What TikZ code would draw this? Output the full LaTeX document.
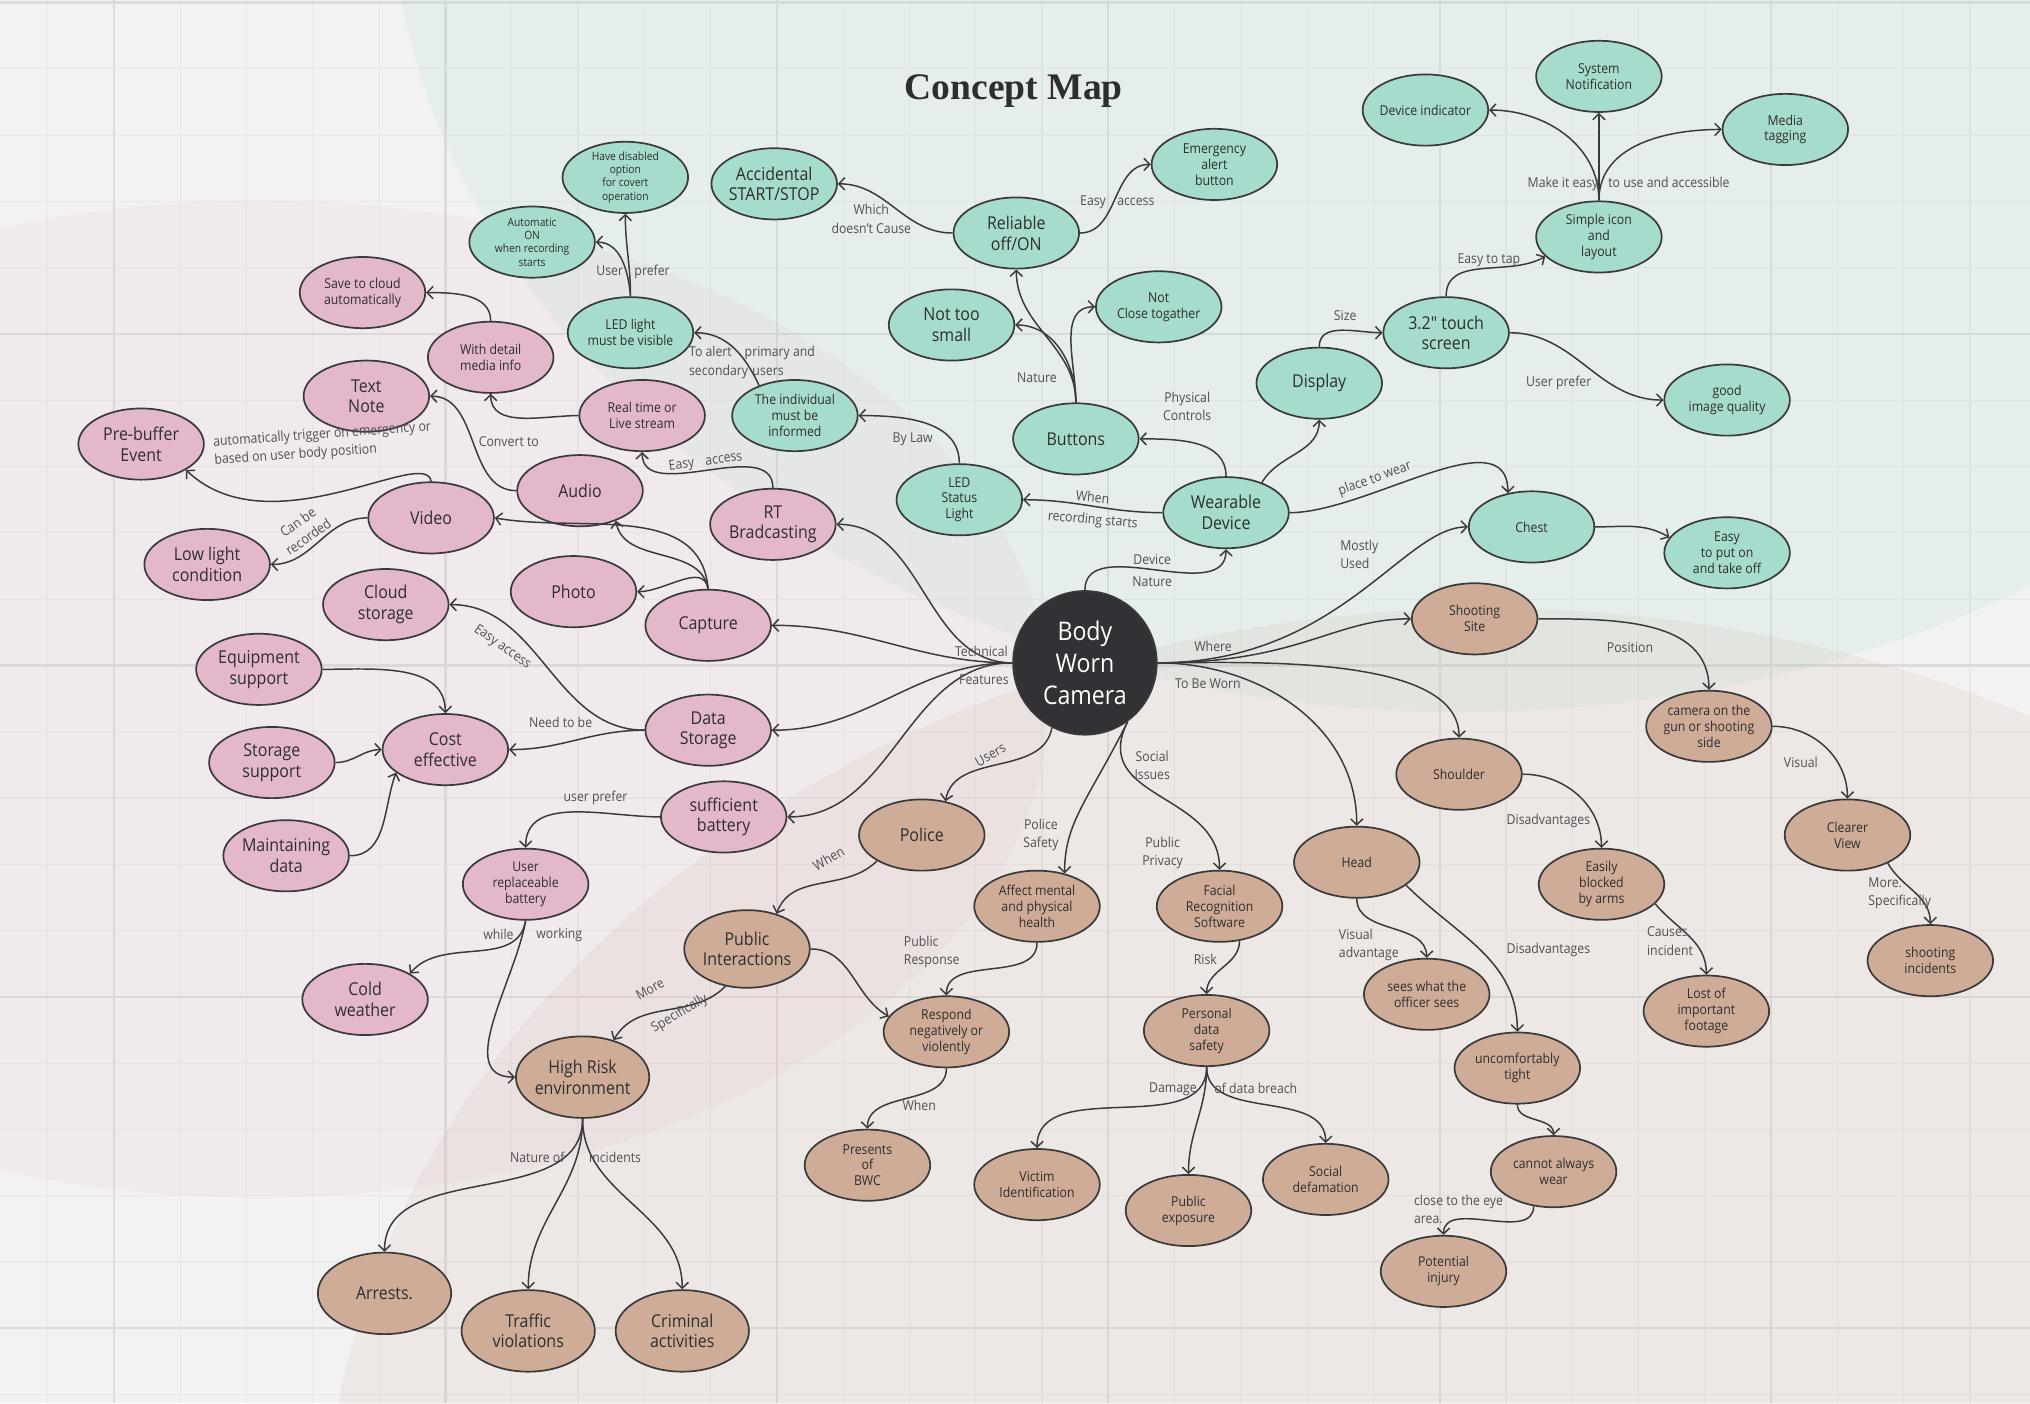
\documentclass[tikz,border=0pt]{standalone}
\usepackage{fontspec}
\setmainfont{Open Sans}[FakeStretch=0.9]
\newfontfamily\plainfont{Open Sans}[FakeStretch=0.9]
\newfontfamily\titlefont{Liberation Serif}
\usepackage{tikz}
\usepackage{color,xcolor}
\usetikzlibrary{shapes.geometric,arrows.meta}

\definecolor{bgcol}{HTML}{F2F2F2}
\definecolor{gridminor}{HTML}{E8E8E8}
\definecolor{gridmajor}{HTML}{DCDCDC}
\definecolor{tealfill}{HTML}{A6DCCD}
\definecolor{pinkfill}{HTML}{E4B8CC}
\definecolor{brownfill}{HTML}{CFAC98}
\definecolor{camfill}{HTML}{323236}
\definecolor{edgecol}{HTML}{3A3A3A}
\definecolor{labelcol}{HTML}{505050}
\definecolor{inkcol}{HTML}{2E2E2E}

\tikzset{
  concept/.style={ellipse, draw=edgecol, line width=0.75pt, inner sep=-2pt,
    minimum width=1.94cm, minimum height=1.1cm, align=center, text=inkcol},
  bigsz/.style={minimum width=2.06cm, minimum height=1.26cm},
  gnode/.style={concept, fill=tealfill},
  pnode/.style={concept, fill=pinkfill},
  bnode/.style={concept, fill=brownfill},
  medtxt/.style={font=\fontsize{7.8}{9.1}\selectfont},
  smtxt/.style={font=\fontsize{6}{7}\selectfont},
  tinytxt/.style={font=\fontsize{5}{5.8}\selectfont},
  link/.style={draw=edgecol, line width=0.65pt, -{Straight Barb[length=2.6pt,width=5.4pt]}},
  lbl/.style={font=\fontsize{6}{8}\selectfont, text=labelcol, align=center, inner sep=0.5pt},
}

\begin{document}
\begin{tikzpicture}[x=0.02cm, y=0.02cm]
  \useasboundingbox (0,0) rectangle (1568,-1084);
  \fill[bgcol] (0,0) rectangle (1568,-1084);
  % grid
  \foreach \i in {0,...,30} \draw[gridminor, line width=0.5pt] ({36.8+51.2*\i},0) -- ++(0,-1084);
  \foreach \j in {0,...,21} \draw[gridminor, line width=0.5pt] (0,{-2-51.2*\j}) -- ++(1568,0);
  \foreach \i in {0,...,5} \draw[gridmajor, line width=1pt] ({88+256*\i},0) -- ++(0,-1084);
  \foreach \j in {0,...,4} \draw[gridmajor, line width=1pt] (0,{-2-256*\j}) -- ++(1568,0);
  % tinted areas
  \begin{scope}
    \clip (0,0) rectangle (1568,-1084);
    \fill[tealfill, opacity=0.17] (1130,100) ellipse [x radius=830, y radius=650];
    \fill[pinkfill, opacity=0.13] (200,-540) ellipse [x radius=610, y radius=385];
    \fill[brownfill, opacity=0.14] (1150,-1200) ellipse [x radius=900, y radius=730];
  \end{scope}

  \node[font=\titlefont\bfseries\fontsize{16.5}{18}\selectfont, text=inkcol] (title) at (783,-70) {Concept Map};

  % centre
  \node[circle, draw=edgecol, line width=0.75pt, fill=camfill, minimum size=2.22cm, inner sep=0pt,
    align=center, text=white, font=\fontsize{11.3}{13.9}\selectfont] (bwc) at (838,-512) {Body\\Worn\\Camera};

  % device nodes
  \node[gnode, medtxt] (acc) at (598,-142) {Accidental\\START/STOP};
  \node[gnode, smtxt] (emerg) at (938,-127) {Emergency\\alert\\button};
  \node[gnode, smtxt] (sysnot) at (1235,-59) {System\\Notification};
  \node[gnode, smtxt] (devind) at (1101,-85) {Device indicator};
  \node[gnode, smtxt] (media) at (1379,-100) {Media\\tagging};
  \node[gnode, tinytxt] (haveDis) at (483,-137) {Have disabled\\option\\for covert\\operation};
  \node[gnode, tinytxt] (autoON) at (411,-187) {Automatic\\ON\\when recording\\starts};
  \node[gnode, medtxt] (reliable) at (785,-180) {Reliable\\off/ON};
  \node[gnode, smtxt] (simple) at (1235,-183) {Simple icon\\and\\layout};
  \node[gnode, smtxt] (notclose) at (895,-237) {Not\\Close togather};
  \node[gnode, medtxt] (nottoo) at (735,-251) {Not too\\small};
  \node[gnode, medtxt] (touch) at (1117,-257) {3.2{\plainfont"} touch\\screen};
  \node[gnode, smtxt] (ledlight) at (487,-257) {LED light\\must be visible};
  \node[gnode, medtxt] (display) at (1019,-296) {Display};
  \node[gnode, smtxt] (good) at (1334,-309) {good\\image quality};
  \node[gnode, smtxt] (indiv) at (614,-321) {The individual\\must be\\informed};
  \node[gnode, medtxt] (buttons) at (831,-339) {Buttons};
  \node[gnode, smtxt] (ledstat) at (741,-386) {LED\\Status\\Light};
  \node[gnode, medtxt] (wear) at (947,-396) {Wearable\\Device};
  \node[gnode, smtxt] (chest) at (1183,-407) {Chest};
  \node[gnode, smtxt] (easyput) at (1334,-427) {Easy\\to put on\\and take off};

  % technical features
  \node[pnode, smtxt] (save) at (280,-226) {Save to cloud\\automatically};
  \node[pnode, smtxt] (detail) at (379,-276) {With detail\\media info};
  \node[pnode, medtxt] (textnote) at (283,-306) {Text\\Note};
  \node[pnode, smtxt] (realtime) at (496,-321) {Real time or\\Live stream};
  \node[pnode, medtxt] (prebuf) at (109,-343) {Pre-buffer\\Event};
  \node[pnode, medtxt] (audio) at (448,-379) {Audio};
  \node[pnode, medtxt] (video) at (333,-400) {Video};
  \node[pnode, medtxt] (rtb) at (597,-405) {RT\\Bradcasting};
  \node[pnode, medtxt] (lowlight) at (160,-436) {Low light\\condition};
  \node[pnode, medtxt] (photo) at (443,-457) {Photo};
  \node[pnode, medtxt] (cloud) at (298,-467) {Cloud\\storage};
  \node[pnode, medtxt] (capture) at (547,-483) {Capture};
  \node[pnode, medtxt] (equip) at (200,-517) {Equipment\\support};
  \node[pnode, medtxt] (datast) at (547,-564) {Data\\Storage};
  \node[pnode, medtxt] (storsup) at (210,-589) {Storage\\support};
  \node[pnode, medtxt] (cost) at (344,-579) {Cost\\effective};
  \node[pnode, medtxt] (suff) at (559,-631) {sufficient\\battery};
  \node[pnode, medtxt] (maint) at (221,-661) {Maintaining\\data};
  \node[pnode, smtxt] (userrep) at (406,-683) {User\\replaceable\\battery};
  \node[pnode, medtxt] (cold) at (282,-772) {Cold\\weather};

  % users, social issues, where to wear
  \node[bnode, smtxt] (shootsite) at (1139,-478) {Shooting\\Site};
  \node[bnode, smtxt] (camgun) at (1320,-561) {camera on the\\gun or shooting\\side};
  \node[bnode, smtxt] (shoulder) at (1127,-598) {Shoulder};
  \node[bnode, medtxt] (police) at (712,-645) {Police};
  \node[bnode, smtxt] (clearer) at (1427,-645) {Clearer\\View};
  \node[bnode, smtxt] (head) at (1048,-666) {Head};
  \node[bnode, smtxt] (easily) at (1237,-683) {Easily\\blocked\\by arms};
  \node[bnode, smtxt] (affect) at (801,-700) {Affect mental\\and physical\\health};
  \node[bnode, smtxt] (facial) at (942,-700) {Facial\\Recognition\\Software};
  \node[bnode, medtxt, minimum height=1.2cm] (public) at (577,-733) {Public\\Interactions};
  \node[bnode, smtxt] (shootinc) at (1491,-742) {shooting\\incidents};
  \node[bnode, smtxt] (sees) at (1102,-768) {sees what the\\officer sees};
  \node[bnode, smtxt] (lost) at (1318,-781) {Lost of\\important\\footage};
  \node[bnode, smtxt] (respond) at (731,-797) {Respond\\negatively or\\violently};
  \node[bnode, smtxt] (personal) at (932,-796) {Personal\\data\\safety};
  \node[bnode, medtxt, bigsz] (highrisk) at (450,-832) {High Risk\\environment};
  \node[bnode, smtxt] (uncomf) at (1172,-825) {uncomfortably\\tight};
  \node[bnode, smtxt] (presents) at (670,-900) {Presents\\of\\BWC};
  \node[bnode, smtxt] (cannot) at (1200,-905) {cannot always\\wear};
  \node[bnode, smtxt] (victim) at (801,-915) {Victim\\Identification};
  \node[bnode, smtxt] (social) at (1024,-911) {Social\\defamation};
  \node[bnode, smtxt] (pubexp) at (918,-935) {Public\\exposure};
  \node[bnode, smtxt] (potential) at (1115,-982) {Potential\\injury};
  \node[bnode, medtxt, bigsz] (arrests) at (297,-999) {Arrests.};
  \node[bnode, medtxt, bigsz] (traffic) at (408,-1028) {Traffic\\violations};
  \node[bnode, medtxt, bigsz] (criminal) at (527,-1028) {Criminal\\activities};

  % links from the camera
  \draw[link] (bwc.north) to[out=90,in=-90] (wear.south);
  \draw[link] (bwc.west) to[out=180,in=0] (rtb.east);
  \draw[link] (bwc.west) to[out=180,in=0] (capture.east);
  \draw[link] (bwc.west) to[out=180,in=0] (datast.east);
  \draw[link] (bwc.west) to[out=180,in=0] (suff.east);
  \draw[link] (bwc.243) to[out=-100,in=80] (police.55);
  \draw[link] (bwc.-54) .. controls +(-30,-60) and +(0,40) .. (affect.50);
  \draw[link] (bwc.-54) .. controls +(-30,-60) and +(0,60) .. (facial.north);
  \draw[link] (bwc.east) .. controls +(140,0) and +(-50,0) .. (chest.west);
  \draw[link] (bwc.east) .. controls +(110,0) and +(-60,0) .. (shootsite.west);
  \draw[link] (bwc.east) to[out=0,in=90,looseness=0.7] (shoulder.north);
  \draw[link] (bwc.east) to[out=0,in=90] (head.north);

  % device
  \draw[link] (wear.west) to[out=180,in=0] (ledstat.east);
  \draw[link] (wear.north) to[out=90,in=0] (buttons.east);
  \draw[link] (wear.40) to[out=60,in=-90] (display.south);
  \draw[link] (wear.east) to[out=0,in=90,looseness=0.9] (chest.125);
  \draw[link] (buttons.north) to[out=90,in=-90] (reliable.south);
  \draw[link] (buttons.north) to[out=90,in=0] (nottoo.east);
  \draw[link] (buttons.north) to[out=90,in=180] (notclose.west);
  \draw[link] (reliable.west) to[out=180,in=0] (acc.east);
  \draw[link] (reliable.east) to[out=0,in=180] (emerg.west);
  \draw[link] (display.north) to[out=90,in=180] (touch.west);
  \draw[link] (touch.north) to[out=90,in=210] (simple.200);
  \draw[link] (touch.east) to[out=0,in=180] (good.west);
  \draw[link] (simple.north) to[out=90,in=0] (devind.east);
  \draw[link] (simple.north) -- (sysnot.south);
  \draw[link] (simple.north) to[out=90,in=180] (media.west);
  \draw[link] (chest.east) to[out=0,in=150] (easyput.165);
  \draw[link] (ledstat.north) to[out=90,in=0] (indiv.east);
  \draw[link] (indiv.140) to[out=115,in=0] (ledlight.east);
  \draw[link] (ledlight.north) to[out=90,in=-90] (haveDis.south);
  \draw[link] (ledlight.north) to[out=95,in=0] (autoON.east);

  % technical features
  \draw[link] (rtb.north) to[out=90,in=-90] (realtime.south);
  \draw[link] (realtime.west) to[out=180,in=-90] (detail.south);
  \draw[link] (detail.north) to[out=90,in=0] (save.east);
  \draw[link] (audio.west) to[out=180,in=0] (textnote.east);
  \draw[link] (video.north) .. controls +(-4,28) and +(65,-62) .. (prebuf.-30);
  \draw[link] (video.west) to[out=180,in=0] (lowlight.east);
  \draw[link] (capture.north) to[out=95,in=-10] (video.east);
  \draw[link] (capture.north) to[out=100,in=-80] (audio.-40);
  \draw[link] (capture.north) to[out=100,in=0] (photo.east);
  \draw[link] (datast.west) to[out=180,in=0] (cost.east);
  \draw[link] (datast.west) to[out=180,in=0] (cloud.east);
  \draw[link] (equip.east) to[out=0,in=90] (cost.north);
  \draw[link] (storsup.east) to[out=0,in=180] (cost.west);
  \draw[link] (maint.east) to[out=0,in=-110] (cost.205);
  \draw[link] (suff.west) to[out=180,in=90] (userrep.north);
  \draw[link] (userrep.south) to[out=-100,in=50] (cold.30);
  \draw[link] (userrep.south) to[out=-100,in=180] (highrisk.west);

  % users and social issues
  \draw[link] (police.210) to[out=-135,in=70] (public.50);
  \draw[link] (public.240) to[out=-135,in=60] (highrisk.50);
  \draw[link] (public.east) to[out=0,in=150] (respond.165);
  \draw[link] (affect.south) to[out=-90,in=90] (respond.north);
  \draw[link] (respond.south) to[out=-90,in=90] (presents.north);
  \draw[link] (facial.-60) to[out=-90,in=90] (personal.north);
  \draw[link] (personal.south) to[out=-90,in=90] (victim.north);
  \draw[link] (personal.south) to[out=-90,in=90] (pubexp.north);
  \draw[link] (personal.south) to[out=-90,in=90] (social.north);
  \draw[link] (highrisk.south) to[out=-90,in=90] (arrests.north);
  \draw[link] (highrisk.south) to[out=-90,in=90] (traffic.north);
  \draw[link] (highrisk.south) to[out=-90,in=90] (criminal.north);

  % where to wear
  \draw[link] (head.south) to[out=-90,in=90] (sees.north);
  \draw[link] (head.-25) to[out=-45,in=90] (uncomf.north);
  \draw[link] (uncomf.south) to[out=-90,in=90] (cannot.north);
  \draw[link] (cannot.-120) to[out=-90,in=90] (potential.north);
  \draw[link] (shootsite.east) to[out=0,in=90] (camgun.north);
  \draw[link] (shoulder.east) to[out=0,in=90] (easily.north);
  \draw[link] (easily.-20) to[out=-50,in=90] (lost.north);
  \draw[link] (camgun.east) to[out=0,in=90] (clearer.north);
  \draw[link] (clearer.-35) to[out=-60,in=90] (shootinc.north);

  % link labels
  \node[lbl] (lWhich) at (673,-169) {\plainfont Which\\doesn't Cause};
  \node[lbl] (lEasyA) at (863,-156) {Easy\hspace{5pt}access};
  \node[lbl] (lNature) at (801,-292) {Nature};
  \node[lbl] (lPhys) at (917,-314) {Physical\\Controls};
  \node[lbl] (lSize) at (1039,-244) {Size};
  \node[lbl] (lTap) at (1150,-201) {Easy to tap};
  \node[lbl] (lMake) at (1258,-142) {Make it easy\hspace{3pt} to use and accessible};
  \node[lbl] (lPrefer) at (1204,-296) {User prefer};
  \node[lbl, rotate=20] (lPlace) at (1062,-370) {place to wear};
  \node[lbl, align=left, anchor=west] (lMostly) at (1034,-428) {Mostly\\Used};
  \node[lbl] (lDevice) at (890,-432) {Device};
  \node[lbl] (lNat2) at (890,-449) {Nature};
  \node[lbl, rotate=-5] (lWhen) at (844,-384) {When};
  \node[lbl, rotate=-5] (lRec) at (844,-402) {recording starts};
  \node[lbl] (lLaw) at (705,-339) {By Law};
  \node[lbl, align=left, anchor=west] (lAlert) at (531,-280) {To alert\\secondary};
  \node[lbl, anchor=west] (lPrim) at (574,-273) {primary and};
  \node[lbl, anchor=west] (lUsers2) at (580,-287) {users};
  \node[lbl] (lUser) at (489,-210) {User\hspace{5pt}prefer};
  \node[lbl, rotate=8] (lEasyB) at (545,-357) {Easy\hspace{5pt}access};
  \node[lbl] (lConv) at (393,-341) {Convert to};
  \node[lbl, align=left, anchor=west, rotate=4] (lAuto) at (164,-349) {automatically trigger on emergency or\\based on user body position};
  \node[lbl, rotate=35] (lCan) at (234,-409) {Can be\\recorded};
  \node[lbl, rotate=-35] (lEasyC) at (388,-500) {Easy access};
  \node[lbl] (lNeed) at (433,-558) {Need to be};
  \node[lbl] (lUpref) at (460,-616) {user prefer};
  \node[lbl] (lWhile) at (385,-722) {while};
  \node[lbl] (lWork) at (432,-722) {working};
  \node[lbl] (lTech) at (758,-503) {Technical};
  \node[lbl] (lFeat) at (760,-525) {Features};
  \node[lbl] (lWhere) at (937,-499) {Where};
  \node[lbl] (lWorn) at (933,-528) {To Be Worn};
  \node[lbl, rotate=30] (lUsers) at (765,-583) {Users};
  \node[lbl] (lSoc) at (890,-591) {Social\\Issues};
  \node[lbl] (lPol) at (804,-645) {Police\\Safety};
  \node[lbl] (lPriv) at (898,-659) {Public\\Privacy};
  \node[lbl, rotate=30] (lWhen2) at (640,-663) {When};
  \node[lbl, rotate=30] (lMore) at (502,-764) {More};
  \node[lbl, rotate=30] (lSpec) at (525,-783) {Specifically};
  \node[lbl, align=left, anchor=west] (lResp) at (697,-735) {Public\\Response};
  \node[lbl] (lRisk) at (931,-741) {Risk};
  \node[lbl] (lWhen3) at (710,-854) {When};
  \node[lbl] (lDam) at (906,-841) {Damage};
  \node[lbl] (lBreach) at (970,-841) {of data breach};
  \node[lbl, align=left, anchor=west] (lVis) at (1033,-730) {Visual\\advantage};
  \node[lbl] (lDis1) at (1196,-634) {Disadvantages};
  \node[lbl] (lDis2) at (1196,-734) {Disadvantages};
  \node[lbl, align=left, anchor=west] (lEye) at (1091,-934) {close to the eye\\area.};
  \node[lbl] (lPos) at (1259,-500) {Position};
  \node[lbl, align=left, anchor=west] (lCause) at (1271,-727) {Causes\\incident};
  \node[lbl] (lVis2) at (1391,-589) {Visual};
  \node[lbl, align=left, anchor=west] (lMoreS) at (1442,-690) {More.\\Specifically};
  \node[lbl] (lNatOf) at (415,-894) {Nature of};
  \node[lbl] (lInc) at (475,-894) {Incidents};
\end{tikzpicture}
\end{document}
